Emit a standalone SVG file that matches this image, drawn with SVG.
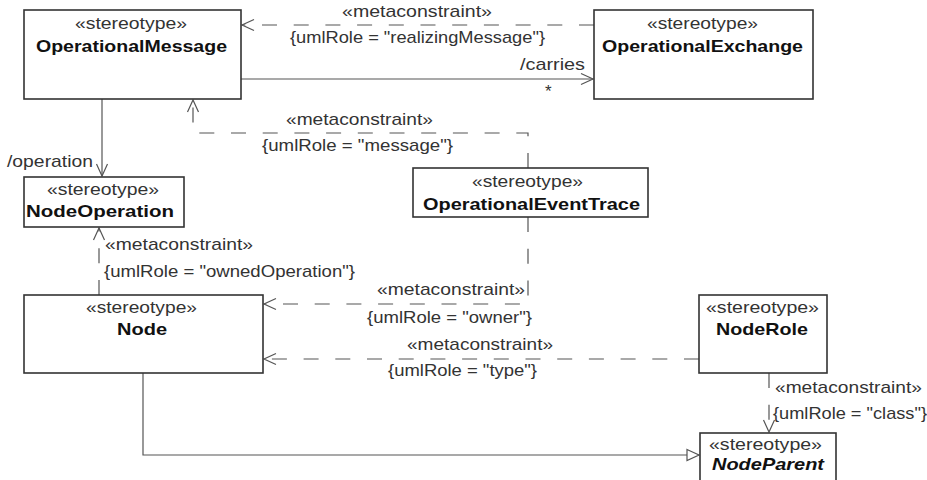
<svg xmlns="http://www.w3.org/2000/svg" width="927" height="480" viewBox="0 0 927 480">
<defs>
<style>
.box{fill:#fff;stroke:#333;stroke-width:1.6}
.st{font-family:"Liberation Sans",Arial,sans-serif;font-size:17px;fill:#333}
.nm{font-family:"Liberation Sans",Arial,sans-serif;font-size:17px;font-weight:bold;fill:#111}
.lb{font-family:"Liberation Sans",Arial,sans-serif;font-size:17px;fill:#333}
.solid{fill:none;stroke:#555;stroke-width:1.2}
.dash{fill:none;stroke:#555;stroke-width:1.2;stroke-dasharray:15 16.7}
</style>
<marker id="open" viewBox="-14 -7 16 14" refX="0" refY="0" markerWidth="16" markerHeight="14" markerUnits="userSpaceOnUse" orient="auto">
<path d="M-12,-5.5 L0,0 L-12,5.5" fill="none" stroke="#555" stroke-width="1.2" stroke-dasharray="none"/>
</marker>
<marker id="tri" viewBox="-14 -7 16 14" refX="0" refY="0" markerWidth="16" markerHeight="14" markerUnits="userSpaceOnUse" orient="auto">
<path d="M-12,-5.5 L0,0 L-12,5.5 Z" fill="#fff" stroke="#555" stroke-width="1.2" stroke-dasharray="none"/>
</marker>
</defs>
<rect width="927" height="480" fill="#fff"/>

<g id="connectors">
<g id="c-realizing">
<path class="dash" d="M594,25 H242" marker-end="url(#open)"/>
<text class="lb" x="342" y="17" textLength="150" lengthAdjust="spacingAndGlyphs">«metaconstraint»</text>
<text class="lb" x="290" y="43" textLength="255" lengthAdjust="spacingAndGlyphs">{umlRole = "realizingMessage"}</text>
</g>
<g id="c-carries">
<path class="solid" d="M241,79 H593" marker-end="url(#open)"/>
<text class="lb" x="520" y="70" textLength="65" lengthAdjust="spacingAndGlyphs">/carries</text>
<text class="lb" x="545" y="97">*</text>
</g>
<g id="c-message">
<path class="dash" d="M528,168 V133 H193 V100" marker-end="url(#open)"/>
<text class="lb" x="286" y="125" textLength="147" lengthAdjust="spacingAndGlyphs">«metaconstraint»</text>
<text class="lb" x="262" y="151" textLength="191" lengthAdjust="spacingAndGlyphs">{umlRole = "message"}</text>
</g>
<g id="c-operation">
<path class="solid" d="M102,99 V176" marker-end="url(#open)"/>
<text class="lb" x="7" y="167" textLength="86" lengthAdjust="spacingAndGlyphs">/operation</text>
</g>
<g id="c-owned">
<path class="dash" d="M99,295 V228" marker-end="url(#open)"/>
<text class="lb" x="105" y="250" textLength="148" lengthAdjust="spacingAndGlyphs">«metaconstraint»</text>
<text class="lb" x="104" y="277" textLength="251" lengthAdjust="spacingAndGlyphs">{umlRole = "ownedOperation"}</text>
</g>
<g id="c-owner">
<path class="dash" d="M528,217 V304 H264" marker-end="url(#open)"/>
<text class="lb" x="377" y="295" textLength="148" lengthAdjust="spacingAndGlyphs">«metaconstraint»</text>
<text class="lb" x="367" y="323" textLength="165" lengthAdjust="spacingAndGlyphs">{umlRole = "owner"}</text>
</g>
<g id="c-type">
<path class="dash" d="M699,359 H264" marker-end="url(#open)"/>
<text class="lb" x="407" y="350" textLength="146" lengthAdjust="spacingAndGlyphs">«metaconstraint»</text>
<text class="lb" x="388" y="376" textLength="149" lengthAdjust="spacingAndGlyphs">{umlRole = "type"}</text>
</g>
<g id="c-class">
<path class="dash" d="M769,373 V432" marker-end="url(#open)"/>
<text class="lb" x="775" y="393" textLength="147" lengthAdjust="spacingAndGlyphs">«metaconstraint»</text>
<text class="lb" x="773" y="419" textLength="154" lengthAdjust="spacingAndGlyphs">{umlRole = "class"}</text>
</g>
<g id="c-generalization">
<path class="solid" d="M143,373 V455 H699" marker-end="url(#tri)"/>
</g>
</g>

<g id="OperationalMessage">
<rect class="box" x="24" y="10" width="217" height="89"/>
<text class="st" x="75" y="29" textLength="112" lengthAdjust="spacingAndGlyphs">«stereotype»</text>
<text class="nm" x="36" y="52" textLength="191" lengthAdjust="spacingAndGlyphs">OperationalMessage</text>
</g>
<g id="OperationalExchange">
<rect class="box" x="594" y="10" width="219" height="89"/>
<text class="st" x="647" y="29" textLength="111" lengthAdjust="spacingAndGlyphs">«stereotype»</text>
<text class="nm" x="602" y="52" textLength="201" lengthAdjust="spacingAndGlyphs">OperationalExchange</text>
</g>
<g id="NodeOperation">
<rect class="box" x="24" y="177" width="160" height="50"/>
<text class="st" x="47" y="195" textLength="112" lengthAdjust="spacingAndGlyphs">«stereotype»</text>
<text class="nm" x="26" y="217" textLength="148" lengthAdjust="spacingAndGlyphs">NodeOperation</text>
</g>
<g id="OperationalEventTrace">
<rect class="box" x="413" y="168" width="235" height="49"/>
<text class="st" x="472" y="187" textLength="111" lengthAdjust="spacingAndGlyphs">«stereotype»</text>
<text class="nm" x="423" y="210" textLength="217" lengthAdjust="spacingAndGlyphs">OperationalEventTrace</text>
</g>
<g id="Node">
<rect class="box" x="24" y="295" width="239" height="78"/>
<text class="st" x="86" y="313" textLength="111" lengthAdjust="spacingAndGlyphs">«stereotype»</text>
<text class="nm" x="117" y="335" textLength="50" lengthAdjust="spacingAndGlyphs">Node</text>
</g>
<g id="NodeRole">
<rect class="box" x="699" y="295" width="128" height="78"/>
<text class="st" x="706" y="313" textLength="113" lengthAdjust="spacingAndGlyphs">«stereotype»</text>
<text class="nm" x="716" y="335" textLength="92" lengthAdjust="spacingAndGlyphs">NodeRole</text>
</g>
<g id="NodeParent">
<rect class="box" x="700" y="433" width="136" height="60"/>
<text class="st" x="709" y="450" textLength="113" lengthAdjust="spacingAndGlyphs">«stereotype»</text>
<text class="nm" x="712" y="470" textLength="112" lengthAdjust="spacingAndGlyphs" font-style="italic">NodeParent</text>
</g>
</svg>
